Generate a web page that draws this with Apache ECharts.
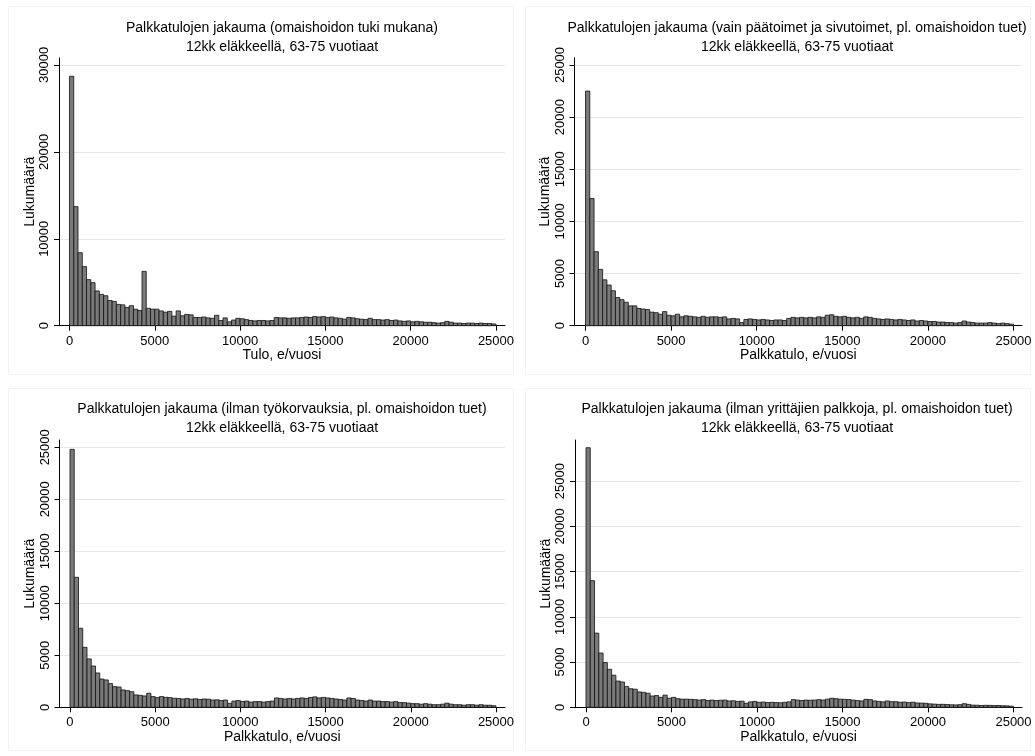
<!DOCTYPE html>
<html>
<head>
<meta charset="utf-8">
<script src="https://cdn.jsdelivr.net/npm/echarts@6/dist/echarts.min.js"></script>
<style>
html,body{margin:0;padding:0;background:#fff;}
#chart{width:1035px;height:756px;}
</style>
</head>
<body>
<div id="chart"></div>
<script>
// ---- data ----
const BIN_WIDTH = 250;
const xTickValues = [0, 5000, 10000, 15000, 20000, 25000];

const titles1 = ['Palkkatulojen jakauma (omaishoidon tuki mukana)', '12kk eläkkeellä, 63-75 vuotiaat'];
const titles2 = ['Palkkatulojen jakauma (vain päätoimet ja sivutoimet, pl. omaishoidon tuet)', '12kk eläkkeellä, 63-75 vuotiaat'];
const titles3 = ['Palkkatulojen jakauma (ilman työkorvauksia, pl. omaishoidon tuet)', '12kk eläkkeellä, 63-75 vuotiaat'];
const titles4 = ['Palkkatulojen jakauma (ilman yrittäjien palkkoja, pl. omaishoidon tuet)', '12kk eläkkeellä, 63-75 vuotiaat'];

const xNames = ['Tulo, e/vuosi', 'Palkkatulo, e/vuosi', 'Palkkatulo, e/vuosi', 'Palkkatulo, e/vuosi'];
const yName = 'Lukumäärä';

const yTicks1 = [0, 10000, 20000, 30000];
const yTicks2 = [0, 5000, 10000, 15000, 20000, 25000];
const yTicks3 = [0, 5000, 10000, 15000, 20000, 25000];
const yTicks4 = [0, 5000, 10000, 15000, 20000, 25000];

const counts1 = [
  28700, 13700, 8400, 6800, 5300, 4950, 4000, 3600, 3450, 2900,
  2800, 2450, 2400, 2100, 2300, 1900, 1750, 6250, 2000, 1900,
  1900, 1700, 1550, 1650, 1100, 1700, 1150, 1300, 1250, 950,
  950, 1000, 900, 850, 1200, 600, 900, 450, 650, 850,
  800, 700, 600, 550, 600, 600, 550, 600, 950, 900,
  900, 850, 900, 900, 950, 1000, 950, 1050, 1000, 1050,
  950, 1000, 900, 850, 750, 950, 900, 800, 750, 700,
  850, 700, 700, 650, 700, 600, 650, 550, 500, 550,
  450, 500, 450, 400, 400, 350, 300, 350, 500, 400,
  300, 300, 250, 300, 300, 250, 300, 250, 250, 200
];
const counts2 = [
  22500, 12200, 7100, 5400, 4400, 3900, 3350, 2700, 2500, 2250,
  1900, 1900, 1650, 1600, 1550, 1300, 1250, 1100, 1350, 1000,
  950, 1100, 850, 950, 900, 850, 800, 900, 800, 850,
  850, 800, 850, 650, 700, 650, 300, 600, 650, 600,
  550, 600, 550, 500, 550, 550, 500, 700, 800, 750,
  800, 750, 800, 750, 850, 800, 1000, 1050, 900, 850,
  900, 800, 750, 800, 700, 850, 800, 700, 650, 600,
  650, 600, 550, 600, 550, 500, 550, 450, 500, 450,
  400, 400, 350, 350, 300, 300, 250, 300, 450, 350,
  300, 250, 250, 250, 300, 250, 200, 250, 200, 150
];
const counts3 = [
  24800, 12500, 7600, 5770, 4650, 3970, 3300, 2720, 2630, 2280,
  1990, 1950, 1670, 1600, 1500, 1190, 1150, 1090, 1350, 1030,
  930, 1030, 960, 930, 870, 850, 800, 850, 780, 820,
  750, 800, 780, 700, 720, 650, 700, 380, 600, 650,
  550, 600, 500, 550, 550, 500, 550, 600, 900, 850,
  800, 850, 800, 850, 900, 850, 950, 1000, 900, 950,
  900, 850, 800, 750, 700, 900, 850, 700, 650, 600,
  700, 600, 600, 550, 550, 500, 550, 450, 450, 400,
  350, 350, 300, 350, 300, 250, 250, 300, 400, 300,
  250, 250, 200, 250, 250, 200, 250, 200, 200, 150
];
const counts4 = [
  28700, 14000, 8200, 6000, 4950, 4200, 3550, 2900, 2800, 2300,
  2050, 2000, 1700, 1650, 1550, 1250, 1300, 1100, 1350, 1000,
  1100, 950, 900, 900, 880, 850, 800, 850, 750, 800,
  750, 780, 800, 700, 720, 650, 680, 440, 600, 650,
  550, 580, 520, 550, 520, 500, 550, 600, 850, 800,
  750, 800, 780, 800, 850, 800, 900, 1000, 950, 900,
  880, 850, 800, 750, 700, 880, 850, 700, 650, 600,
  700, 620, 620, 560, 580, 520, 560, 480, 470, 440,
  380, 350, 320, 330, 300, 280, 260, 290, 400, 320,
  240, 230, 200, 220, 210, 190, 200, 170, 160, 120
];

// ---- layout ----
const FONT = '"Liberation Sans", Arial, Helvetica, sans-serif';
const TITLE_SIZE = 14, NAME_SIZE = 14, TICK_SIZE = 13;
const panels = [
  {counts: counts1, titles: titles1, xName: xNames[0], yTicks: yTicks1,
   grid: {left: 59, top: 58, width: 446, height: 267.7},
   xMin: -615, xMax: 25530, yMax: 30800, cx: 282, ty: 28},
  {counts: counts2, titles: titles2, xName: xNames[1], yTicks: yTicks2,
   grid: {left: 574.5, top: 57.7, width: 447.5, height: 268},
   xMin: -643, xMax: 25497, yMax: 25700, cx: 797, ty: 28},
  {counts: counts3, titles: titles3, xName: xNames[2], yTicks: yTicks3,
   grid: {left: 59.5, top: 440, width: 445.5, height: 267.3},
   xMin: -615, xMax: 25530, yMax: 25700, cx: 282, ty: 409},
  {counts: counts4, titles: titles4, xName: xNames[3], yTicks: yTicks4,
   grid: {left: 575, top: 440, width: 447, height: 267.3},
   xMin: -643, xMax: 25497, yMax: 29550, cx: 797, ty: 409}
];

const grids = [], xAxes = [], yAxes = [], series = [], graphics = [];
const axisLineStyle = {color: '#000', width: 1};
const plain = v => String(Math.round(v));

panels.forEach((p, i) => {
  grids.push(Object.assign({containLabel: false}, p.grid));
  xAxes.push({
    type: 'value', gridIndex: i, min: p.xMin, max: p.xMax,
    name: p.xName, nameLocation: 'middle', nameGap: 19,
    nameTextStyle: {fontSize: NAME_SIZE, color: '#000', fontFamily: FONT},
    axisLine: {show: true, onZero: false, lineStyle: axisLineStyle},
    axisTick: {show: true, length: 5, lineStyle: axisLineStyle, customValues: xTickValues},
    axisLabel: {fontSize: TICK_SIZE, color: '#000', fontFamily: FONT, margin: 9,
      customValues: xTickValues, formatter: plain},
    splitLine: {show: false}
  });
  yAxes.push({
    type: 'value', gridIndex: i, min: 0, max: p.yMax,
    name: yName, nameLocation: 'middle', nameGap: 22,
    nameTextStyle: {fontSize: NAME_SIZE, color: '#000', fontFamily: FONT},
    axisLine: {show: true, onZero: false, lineStyle: axisLineStyle},
    axisTick: {show: true, length: 5, lineStyle: axisLineStyle, customValues: p.yTicks},
    axisLabel: {fontSize: TICK_SIZE, color: '#000', fontFamily: FONT, rotate: 90, margin: 8,
      customValues: p.yTicks, formatter: plain},
    splitLine: {show: true, lineStyle: {color: '#e6e6e6', width: 1}}
  });
  const data = p.counts.map((c, k) => [k * BIN_WIDTH, (k + 1) * BIN_WIDTH, c]);
  series.push({
    type: 'custom', xAxisIndex: i, yAxisIndex: i, data: data,
    encode: {x: [0, 1], y: 2},
    clip: false,
    renderItem: function (params, api) {
      const x0 = api.value(0), x1 = api.value(1), v = api.value(2);
      const a = api.coord([x0, v]);
      const b = api.coord([x1, 0]);
      return {
        type: 'rect',
        shape: {x: a[0], y: a[1], width: b[0] - a[0], height: b[1] - a[1]},
        style: {fill: '#7a7a7a', stroke: '#111', lineWidth: 0.8}
      };
    }
  });
  graphics.push({
    type: 'text', x: p.cx, y: p.ty,
    style: {text: p.titles[0], fontSize: TITLE_SIZE, fontFamily: FONT, fill: '#000', align: 'center', verticalAlign: 'middle'}
  });
  graphics.push({
    type: 'text', x: p.cx, y: p.ty + 19,
    style: {text: p.titles[1], fontSize: TITLE_SIZE, fontFamily: FONT, fill: '#000', align: 'center', verticalAlign: 'middle'}
  });
});

// panel frames (faint)
[[8, 6, 505, 368], [525, 6, 505, 368], [8, 388, 505, 362], [525, 388, 505, 362]].forEach(r => {
  graphics.push({type: 'rect', silent: true, z: -1,
    shape: {x: r[0] + 0.5, y: r[1] + 0.5, width: r[2], height: r[3]},
    style: {fill: 'none', stroke: '#f2f2f2', lineWidth: 1}});
});

const chart = echarts.init(document.getElementById('chart'), null, {renderer: 'canvas'});
chart.setOption({
  animation: false,
  backgroundColor: '#fff',
  textStyle: {fontFamily: FONT},
  grid: grids, xAxis: xAxes, yAxis: yAxes, series: series,
  graphic: graphics
});
</script>
</body>
</html>
